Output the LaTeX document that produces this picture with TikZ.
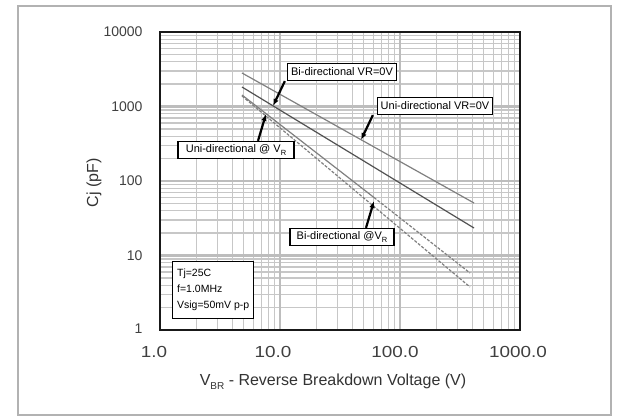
\documentclass[tikz,border=0pt]{standalone}
\usepackage{fontspec}
\setmainfont{Liberation Sans}
\usetikzlibrary{arrows.meta,calc}
\newcommand{\lowsub}[3]{\raisebox{#1}{\fontsize{#2}{#2}\selectfont #3}}
\begin{document}
\begin{tikzpicture}[x=1pt,y=-1pt,
  minorgrid/.style={draw=black!22,line width=1.2pt},
  majorgrid/.style={draw=black!26,line width=2.6pt},
  plotframe/.style={draw=black!90,line width=2.3pt},
  curve/.style={line width=1.2pt},
  lbl/.style={draw=black,line width=1.3pt,fill=white,inner sep=2pt,minimum height=17pt,font=\fontsize{11}{12}\selectfont},
  arr/.style={line width=2.2pt,-{Latex[length=7pt,width=5.5pt]}},
  ytick/.style={anchor=east,font=\fontsize{14}{16}\selectfont,text=black!75},
  xtick/.style={font=\fontsize{16}{18}\selectfont,text=black!75},
  axtitle/.style={font=\fontsize{16}{18}\selectfont,text=black!80},
  ]
\useasboundingbox (0,0) rectangle (620,417);
\fill[white] (0,0) rectangle (620,417);
\draw[black!30,line width=1.5pt] (18,6) rectangle (611,415);
% grid
\foreach \d in {0,1,2}{
  \foreach \l in {0.30103,0.47712,0.60206,0.69897,0.77815,0.84510,0.90309,0.95424}{
    \draw[minorgrid] ({160+120*(\d+\l)},32) -- ({160+120*(\d+\l)},330);
  }
}
\foreach \d in {0,1,2,3}{
  \foreach \l in {0.30103,0.47712,0.60206,0.69897,0.77815,0.84510,0.90309,0.95424}{
    \draw[minorgrid] (160,{330-74.5*(\d+\l)}) -- (520,{330-74.5*(\d+\l)});
  }
}
\foreach \d in {1,2}{\draw[majorgrid] ({160+120*\d},32) -- ({160+120*\d},330);}
\foreach \d in {1,2,3}{\draw[majorgrid] (160,{330-74.5*\d}) -- (520,{330-74.5*\d});}
% curves
\draw[curve,black!50] (242,73) -- (474,203);
\draw[curve,black!68] (242,87) -- (474,228);
\draw[curve,black!50] (242,95) -- (374,197.5);
\draw[curve,black!50,dash pattern=on 3pt off 1.5pt] (374,197.5) -- (470,273);
\draw[curve,black!50,dash pattern=on 3pt off 1.5pt] (242,96) -- (470,287);
% frame
\draw[plotframe] (160,32) rectangle (520,330);
% tick labels
\foreach \v/\y [count=\i] in {10000/32,1000/106.5,100/181,10/255.5,1/329}{
  \node[ytick] (yt\i) at (146,\y) {\v};
}
\foreach \v/\x [count=\i] in {1.0/154,10.0/273,100.0/395,1000.0/518}{
  \node[xtick] (xt\i) at (\x,352) {\scalebox{1.18}[1]{\v}};
}
\node[axtitle] (xtitle) at (333,382) {V\lowsub{-4pt}{10}{BR} - Reverse Breakdown Voltage (V)};
\node[axtitle,rotate=90] (ytitle) at (94,183) {Cj (pF)};
% targets
\coordinate (t1) at (273,106);
\coordinate (t2) at (361,140);
\coordinate (t3) at (266,114);
\coordinate (t4) at (374,201);
% labels
\node[lbl,minimum width=109pt] (lb1) at (342,72) {Bi-directional VR=0V};
\node[lbl,minimum width=115pt] (lb2) at (435,106) {Uni-directional VR=0V};
\node[lbl,minimum width=116pt] (lb3) at (236,150) {Uni-directional @ V\lowsub{-2.5pt}{7.5}{R}};
\node[lbl,minimum width=104pt] (lb4) at (342,237) {Bi-directional @V\lowsub{-2.5pt}{7.5}{R}};
\node[draw=black,line width=1.3pt,fill=white,anchor=north west,minimum width=81pt,minimum height=57pt,align=left,inner sep=3pt,font=\fontsize{10.5}{16}\selectfont] (info) at (172,261) {Tj=25C\\f=1.0MHz\\Vsig=50mV p-p};
% arrows
\draw[arr] ([xshift=-2pt]lb1.south west) -- (t1);
\draw[arr] ([xshift=-4pt]lb2.south west) -- (t2);
\draw[arr] ([xshift=22pt]lb3.north) -- (t3);
\draw[arr] ([xshift=24pt]lb4.north) -- (t4);
\end{tikzpicture}
\end{document}
